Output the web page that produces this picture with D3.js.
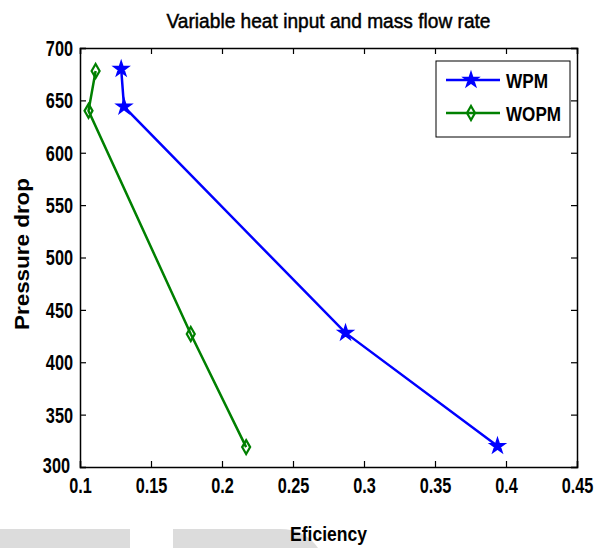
<!DOCTYPE html>
<html>
<head>
<meta charset="utf-8">
<script src="https://cdn.jsdelivr.net/npm/d3@7"></script>
<style>
  body { margin: 0; background: #fff; }
  svg text { font-family: "Liberation Sans", Arial, sans-serif; }
</style>
</head>
<body>
<div id="chart"></div>
<script>
// Data
const wpmEff = [0.129, 0.131, 0.287, 0.394];
const wpmDrop = [680, 644, 428, 320];
const wopmEff = [0.111, 0.106, 0.178, 0.217];
const wopmDrop = [678, 640, 427, 319];
const xTicks = [0.1, 0.15, 0.2, 0.25, 0.3, 0.35, 0.4, 0.45];
const yTicks = [300, 350, 400, 450, 500, 550, 600, 650, 700];

const width = 605, height = 548;
const margin = { top: 48, right: 28, bottom: 81, left: 80 };
const w = width - margin.left - margin.right;
const h = height - margin.top - margin.bottom;

// squeeze text horizontally (no narrow font available)
function condense(sel, f) {
  sel.each(function () {
    const len = this.getComputedTextLength();
    d3.select(this).attr("textLength", len * f).attr("lengthAdjust", "spacingAndGlyphs");
  });
}

const svg = d3.select("#chart").append("svg")
  .attr("width", width)
  .attr("height", height);

// grey strips at the bottom of the picture
svg.append("rect").attr("x", 0).attr("y", 529).attr("width", 130).attr("height", 19).attr("fill", "#dcdcdc");
svg.append("path")
  .attr("d", "M173,529 L280,529 Q305,529 318,548 L173,548 Z")
  .attr("fill", "#dcdcdc");

const g = svg.append("g").attr("transform", `translate(${margin.left},${margin.top})`);

const x = d3.scaleLinear().domain([0.1, 0.45]).range([0, w]);
const y = d3.scaleLinear().domain([300, 700]).range([h, 0]);

// Axes with inward ticks, box style
const fmtX = d => String(+d.toFixed(2));
g.append("g")
  .attr("transform", `translate(0,${h})`)
  .call(d3.axisBottom(x).tickValues(xTicks).tickSize(-6).tickPadding(10).tickFormat(fmtX))
  .call(a => a.selectAll("text").style("font-size", "22px").style("font-weight", "bold").attr("fill", "#000"));
g.append("g")
  .call(d3.axisLeft(y).tickValues(yTicks).tickSize(-6).tickPadding(7))
  .call(a => a.selectAll("text").style("font-size", "22px").style("font-weight", "bold").attr("fill", "#000").attr("dy", "0.34em"))
  .call(a => a.selectAll(".tick").filter(d => d === 300).select("text").attr("x", -10).attr("dy", "0.26em"));
g.append("g")
  .call(d3.axisTop(x).tickValues(xTicks).tickSize(-6).tickFormat(""));
g.append("g")
  .attr("transform", `translate(${w},0)`)
  .call(d3.axisRight(y).tickValues(yTicks).tickSize(-6).tickFormat(""));
g.selectAll(".domain").attr("stroke", "#000").attr("stroke-width", 1.5);
g.selectAll(".tick line").attr("stroke", "#000").attr("stroke-width", 1.2);
condense(g.selectAll(".tick text"), 0.74);

// Lines
const series = [
  { name: "WPM", xs: wpmEff, ys: wpmDrop, color: "#0000ff", marker: "star" },
  { name: "WOPM", xs: wopmEff, ys: wopmDrop, color: "#008000", marker: "diamond" }
];

const line = d3.line().x(d => x(d[0])).y(d => y(d[1]));
const diamond = "M0,-7 L4,0 L0,7 L-4,0 Z";
const star = d3.symbol(d3.symbolStar, 50)();

function addMarker(sel, s) {
  sel.attr("d", s.marker === "diamond" ? diamond : star)
    .attr("fill", s.marker === "diamond" ? "none" : s.color)
    .attr("stroke", s.color)
    .attr("stroke-width", 2.2);
}

series.forEach(s => {
  const pts = s.xs.map((v, i) => [v, s.ys[i]]);
  g.append("path")
    .datum(pts)
    .attr("fill", "none")
    .attr("stroke", s.color)
    .attr("stroke-width", 2.5)
    .attr("d", line);
  g.selectAll(null)
    .data(pts)
    .enter()
    .append("path")
      .attr("transform", d => `translate(${x(d[0])},${y(d[1])})`)
      .call(addMarker, s);
});

// Legend
const leg = svg.append("g").attr("transform", "translate(436,61)");
leg.append("rect").attr("width", 134).attr("height", 76).attr("fill", "#fff").attr("stroke", "#000").attr("stroke-width", 1);
series.forEach((s, i) => {
  const ly = 19 + i * 33;
  leg.append("line").attr("x1", 10).attr("x2", 64).attr("y1", ly).attr("y2", ly)
    .attr("stroke", s.color).attr("stroke-width", 2.5);
  leg.append("path")
    .attr("transform", `translate(35,${ly})`)
    .call(addMarker, s);
  leg.append("text").attr("x", 70).attr("y", ly).attr("dy", "0.36em")
    .style("font-size", "21px").style("font-weight", "bold")
    .text(s.name)
    .attr("textLength", s.name === "WPM" ? 42 : 55).attr("lengthAdjust", "spacingAndGlyphs");
});

// Title and labels
svg.append("text")
  .attr("x", margin.left + w / 2)
  .attr("y", 28)
  .attr("text-anchor", "middle")
  .style("font-size", "21px")
  .attr("stroke", "#000")
  .attr("stroke-width", 0.5)
  .text("Variable heat input and mass flow rate")
  .attr("textLength", 324).attr("lengthAdjust", "spacingAndGlyphs");

svg.append("text")
  .attr("x", margin.left + w / 2)
  .attr("y", 541)
  .attr("text-anchor", "middle")
  .style("font-size", "21px")
  .style("font-weight", "bold")
  .text("Eficiency")
  .attr("textLength", 77).attr("lengthAdjust", "spacingAndGlyphs");

svg.append("text")
  .attr("transform", "rotate(-90)")
  .attr("x", -254)
  .attr("y", 29)
  .attr("text-anchor", "middle")
  .style("font-size", "20px")
  .style("font-weight", "bold")
  .text("Pressure drop")
  .attr("textLength", 152).attr("lengthAdjust", "spacingAndGlyphs");
</script>
</body>
</html>
